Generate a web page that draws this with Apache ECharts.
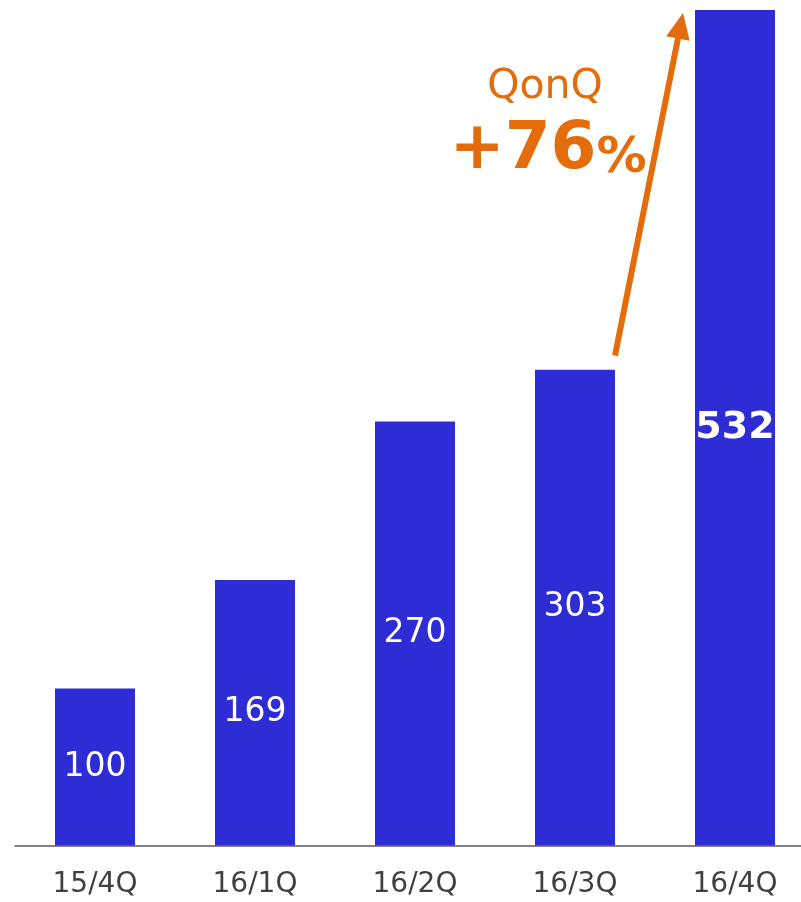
<!DOCTYPE html>
<html>
<head>
<meta charset="utf-8">
<script src="https://cdn.jsdelivr.net/npm/echarts@6/dist/echarts.min.js"></script>
<style>
  html, body { margin: 0; padding: 0; background: #ffffff; }
  #chart { width: 801px; height: 902px; }
</style>
</head>
<body>
<div id="chart"></div>
<script>
// Quarterly index (15/4Q = 100)
const quarters = ['15/4Q', '16/1Q', '16/2Q', '16/3Q', '16/4Q'];
const values = [100, 169, 270, 303, 532];
const growthTitle = 'QonQ';
const growthValue = '+76';

const BAR = '#2e2cd4';
const ORANGE = '#e46c0a';
const FONT = '"DejaVu Sans", Verdana, sans-serif';

const chart = echarts.init(document.getElementById('chart'), null, { renderer: 'canvas' });

const lastIdx = values.length - 1;

chart.setOption({
  animation: false,
  backgroundColor: '#ffffff',
  grid: {
    left: 15, top: 10, right: -14, bottom: 56.5,
    containLabel: false,
    outerBoundsMode: 'none'
  },
  xAxis: {
    type: 'category',
    data: quarters,
    axisLine: { lineStyle: { color: '#595959', width: 1.5 } },
    axisTick: { show: false },
    axisLabel: { color: '#404040', fontSize: 28, fontFamily: FONT, margin: 25 }
  },
  yAxis: {
    type: 'value',
    min: 0,
    max: 532,
    show: false,
    splitLine: { show: false }
  },
  series: [{
    type: 'bar',
    barWidth: '50%',
    data: values.map((v, i) => ({
      value: v,
      label: i === lastIdx
        ? { fontWeight: 'bold', fontSize: 38 }
        : {}
    })),
    itemStyle: { color: BAR },
    label: {
      show: true,
      position: 'inside',
      color: '#ffffff',
      fontSize: 33,
      fontFamily: FONT
    }
  }]
});

// Growth arrow from the top of 16/3Q to the top of 16/4Q
const p3 = chart.convertToPixel({ seriesIndex: 0 }, [3, values[3]]);
const p4 = chart.convertToPixel({ seriesIndex: 0 }, [4, values[4]]);
const halfBar = 40;
const start = [p3[0] + halfBar, p3[1] - 14];
const tip = [p4[0] - halfBar - 12, p4[1] + 3];

const dx = tip[0] - start[0], dy = tip[1] - start[1];
const len = Math.sqrt(dx * dx + dy * dy);
const ux = dx / len, uy = dy / len;
const nx = -uy, ny = ux;
const headLen = 26, headHalf = 12;
const base = [tip[0] - ux * headLen, tip[1] - uy * headLen];

chart.setOption({
  graphic: [
    {
      type: 'line',
      shape: { x1: start[0], y1: start[1], x2: base[0] + ux * 2, y2: base[1] + uy * 2 },
      style: { stroke: ORANGE, lineWidth: 6 }
    },
    {
      type: 'polygon',
      shape: {
        points: [
          tip,
          [base[0] + nx * headHalf, base[1] + ny * headHalf],
          [base[0] - nx * headHalf, base[1] - ny * headHalf]
        ]
      },
      style: { fill: ORANGE }
    },
    {
      type: 'text',
      x: 545,
      y: 87,
      style: {
        text: growthTitle,
        fill: ORANGE,
        font: '41px ' + FONT,
        align: 'center',
        verticalAlign: 'middle'
      }
    },
    {
      type: 'text',
      x: 548,
      y: 151,
      style: {
        text: '{a|' + growthValue + '}{b|%}',
        align: 'center',
        verticalAlign: 'middle',
        rich: {
          a: { fill: ORANGE, fontSize: 66, fontWeight: 'bold', fontFamily: FONT, verticalAlign: 'bottom' },
          b: { fill: ORANGE, fontSize: 50, fontWeight: 'bold', fontFamily: FONT, verticalAlign: 'bottom' }
        }
      }
    }
  ]
});
</script>
</body>
</html>
